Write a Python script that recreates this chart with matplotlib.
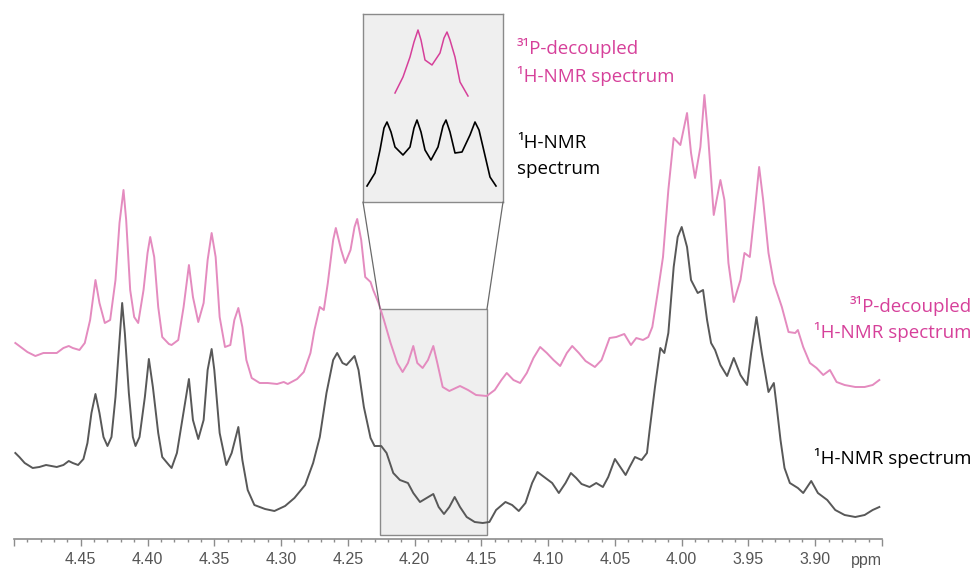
import matplotlib.pyplot as plt
from matplotlib.patches import Rectangle, ConnectionPatch
from matplotlib.ticker import MultipleLocator

# chemical shift (ppm) and intensity (arbitrary units)
# 1H-NMR spectrum
h_ppm = [4.499, 4.496, 4.492, 4.486, 4.481, 4.476, 4.472, 4.468, 4.463, 4.459,
         4.456, 4.452, 4.448, 4.445, 4.442, 4.439, 4.436, 4.433, 4.430, 4.427,
         4.424, 4.421, 4.419, 4.417, 4.414, 4.411, 4.409, 4.406, 4.402, 4.399,
         4.396, 4.392, 4.389, 4.384, 4.382, 4.378, 4.374, 4.369, 4.366, 4.362,
         4.358, 4.355, 4.352, 4.350, 4.346, 4.341, 4.337, 4.332, 4.329, 4.325,
         4.320, 4.312, 4.305, 4.297, 4.290, 4.282, 4.276, 4.271, 4.266, 4.261,
         4.258, 4.254, 4.251, 4.245, 4.242, 4.238, 4.233, 4.230, 4.225, 4.221,
         4.216, 4.211, 4.205, 4.201, 4.196, 4.191, 4.186, 4.182, 4.178, 4.174,
         4.170, 4.166, 4.161, 4.155, 4.149, 4.144, 4.139, 4.132, 4.127, 4.122,
         4.117, 4.112, 4.108, 4.102, 4.097, 4.092, 4.087, 4.083, 4.079, 4.075,
         4.069, 4.064, 4.059, 4.055, 4.050, 4.046, 4.042, 4.039, 4.035, 4.030,
         4.026, 4.024, 4.020, 4.016, 4.013, 4.010, 4.006, 4.003, 4.000, 3.996,
         3.993, 3.988, 3.984, 3.981, 3.978, 3.975, 3.971, 3.966, 3.961, 3.956,
         3.951, 3.948, 3.944, 3.940, 3.935, 3.931, 3.929, 3.926, 3.923, 3.919,
         3.913, 3.909, 3.903, 3.898, 3.891, 3.885, 3.878, 3.870, 3.863, 3.857,
         3.852]
h_int = [86, 82, 76, 71, 72, 74, 73, 72, 74, 78,
         76, 74, 80, 96, 126, 145, 126, 102, 93, 102,
         142, 199, 236, 206, 146, 102, 93, 102, 142, 180,
         152, 106, 82, 74, 71, 86, 119, 160, 119, 100,
         119, 169, 190, 169, 106, 74, 86, 112, 79, 49,
         34, 30, 28, 33, 41, 54, 76, 102, 146, 179,
         186, 176, 174, 183, 169, 132, 101, 93, 93, 86,
         66, 59, 56, 46, 37, 41, 45, 32, 25, 32,
         42, 32, 22, 17, 16, 17, 29, 37, 34, 28,
         36, 56, 67, 61, 56, 46, 56, 66, 61, 55,
         52, 56, 52, 62, 80, 72, 64, 72, 82, 79,
         86, 109, 152, 191, 186, 206, 272, 302, 312, 292,
         259, 246, 249, 219, 196, 189, 174, 163, 181, 164,
         154, 186, 222, 186, 147, 156, 134, 99, 71, 56,
         51, 46, 58, 46, 39, 29, 24, 22, 24, 29,
         32]

# 31P-decoupled 1H-NMR spectrum
p_ppm = [4.499, 4.496, 4.490, 4.484, 4.478, 4.473, 4.468, 4.463, 4.459, 4.456,
         4.451, 4.447, 4.443, 4.439, 4.436, 4.432, 4.428, 4.424, 4.421, 4.418,
         4.416, 4.413, 4.410, 4.407, 4.403, 4.400, 4.398, 4.395, 4.392, 4.389,
         4.384, 4.382, 4.377, 4.373, 4.369, 4.366, 4.362, 4.358, 4.355, 4.352,
         4.349, 4.346, 4.342, 4.338, 4.335, 4.332, 4.329, 4.326, 4.322, 4.316,
         4.310, 4.303, 4.298, 4.295, 4.288, 4.283, 4.278, 4.275, 4.271, 4.268,
         4.265, 4.261, 4.259, 4.255, 4.252, 4.248, 4.245, 4.243, 4.240, 4.237,
         4.233, 4.231, 4.227, 4.223, 4.218, 4.213, 4.209, 4.205, 4.201, 4.198,
         4.194, 4.190, 4.186, 4.183, 4.179, 4.174, 4.166, 4.160, 4.154, 4.146,
         4.140, 4.135, 4.131, 4.126, 4.121, 4.116, 4.111, 4.106, 4.101, 4.096,
         4.091, 4.086, 4.082, 4.077, 4.072, 4.065, 4.060, 4.054, 4.049, 4.043,
         4.038, 4.034, 4.029, 4.025, 4.022, 4.018, 4.014, 4.010, 4.006, 4.001,
         3.996, 3.993, 3.990, 3.986, 3.983, 3.980, 3.976, 3.971, 3.968, 3.965,
         3.961, 3.956, 3.953, 3.949, 3.945, 3.942, 3.939, 3.935, 3.931, 3.925,
         3.920, 3.915, 3.913, 3.909, 3.904, 3.899, 3.894, 3.889, 3.884, 3.878,
         3.870, 3.863, 3.857, 3.852]
p_int = [196, 193, 187, 183, 186, 186, 186, 191, 193, 191,
         189, 196, 219, 259, 236, 216, 219, 259, 316, 349,
         319, 249, 222, 216, 249, 286, 302, 282, 232, 202,
         195, 194, 199, 232, 274, 242, 217, 236, 279, 306,
         282, 222, 192, 194, 219, 231, 212, 179, 161, 156,
         156, 155, 157, 155, 160, 167, 186, 209, 232, 229,
         256, 299, 311, 289, 276, 289, 312, 320, 299, 262,
         257, 249, 236, 219, 196, 176, 167, 176, 193, 176,
         171, 179, 193, 176, 152, 148, 153, 149, 144, 143,
         149, 159, 166, 159, 156, 166, 181, 192, 186, 179,
         173, 186, 193, 186, 178, 172, 179, 201, 202, 205,
         194, 201, 199, 202, 212, 246, 282, 349, 401, 394,
         426, 386, 361, 392, 444, 399, 324, 359, 339, 276,
         237, 259, 286, 282, 332, 372, 339, 286, 256, 232,
         207, 206, 209, 192, 176, 171, 164, 169, 157, 154,
         152, 152, 154, 159]

# schematic close-up of the 4.22-4.15 ppm multiplet (inset units)
inset_p_x = [32, 40, 47, 51, 55, 58, 62, 69, 77, 81, 84, 87, 92, 97, 105]
inset_p_y = [109, 125, 145, 160, 172, 162, 142, 137, 149, 164, 170, 162, 145, 120, 106]
inset_h_x = [4, 12, 17, 21, 24, 28, 32, 40, 47, 51, 54, 58, 62, 68, 75, 80, 83, 87,
             92, 99, 107, 112, 116, 120, 127, 133]
inset_h_y = [16, 29, 52, 74, 80, 70, 55, 47, 55, 74, 82, 70, 52, 42, 55, 76, 82, 70,
             49, 50, 67, 80, 72, 55, 25, 16]

tick_vals = [4.50, 4.45, 4.40, 4.35, 4.30, 4.25, 4.20, 4.15, 4.10, 4.05, 4.00, 3.95, 3.90, 3.85]
tick_text = ['', '4.45', '4.40', '4.35', '4.30', '4.25', '4.20', '4.15', '4.10', '4.05',
             '4.00', '3.95', '3.90', '']

zoom_lo, zoom_hi = 4.2259, 4.1458

pink_line = '#e48bbf'
pink_text = '#d6409a'
dark_line = '#585858'
txt_font = ['Open Sans', 'DejaVu Sans']

W, H = 975, 569
fig = plt.figure(figsize=(W / 100, H / 100), dpi=100)
ax = fig.add_axes([14 / W, 30 / H, 868 / W, 539 / H])
ax.set_xlim(4.50, 3.85)
ax.set_ylim(0, 539)

ax.add_patch(Rectangle((zoom_lo, 4), zoom_hi - zoom_lo, 226, facecolor='#efefef',
                       edgecolor='#8a8a8a', lw=1.0, zorder=1))
ax.plot(p_ppm, p_int, color=pink_line, lw=1.4, zorder=3, solid_joinstyle='round')
ax.plot(h_ppm, h_int, color=dark_line, lw=1.4, zorder=3, solid_joinstyle='round')

for s in ['top', 'left', 'right']:
    ax.spines[s].set_visible(False)
ax.spines['bottom'].set_color('#8c8c8c')
ax.spines['bottom'].set_linewidth(1.2)
ax.set_yticks([])
ax.set_xticks(tick_vals)
ax.set_xticklabels(tick_text, fontfamily='Liberation Sans', fontsize=11.5, color='#555555')
ax.xaxis.set_minor_locator(MultipleLocator(0.01))
ax.tick_params(axis='x', which='major', direction='out', length=5, width=1,
               color='#8c8c8c', pad=4)
ax.tick_params(axis='x', which='minor', direction='out', length=2.5, width=1,
               color='#8c8c8c')
ax.text(3.85, -22, 'ppm', ha='right', va='center', fontfamily='Liberation Sans',
        fontsize=11.5, color='#555555', clip_on=False)
ax.patch.set_alpha(0)

# inset box
ins = fig.add_axes([363 / W, (H - 202) / H, 140 / W, 188 / H])
ins.set_xlim(0, 140)
ins.set_ylim(0, 188)
ins.set_facecolor('#efefef')
for s in ins.spines.values():
    s.set_color('#8a8a8a')
    s.set_linewidth(1.0)
ins.set_xticks([])
ins.set_yticks([])
ins.plot(inset_p_x, inset_p_y, color=pink_text, lw=1.1)
ins.plot(inset_h_x, inset_h_y, color='black', lw=1.2)

for corner_ax, corner_data in [((0, 0), (zoom_lo, 230)), ((1, 0), (zoom_hi, 230))]:
    con = ConnectionPatch(xyA=corner_ax, coordsA=ins.transAxes, xyB=corner_data,
                          coordsB=ax.transData, color='#6a6a6a', lw=0.9)
    fig.add_artist(con)

# labels
def px_text(x, y, s, color, ha='left'):
    fig.text(x / W, 1 - y / H, s, ha=ha, va='center', color=color,
             family=txt_font, fontsize=13.5)

px_text(517, 48, '³¹P-decoupled', pink_text)
px_text(517, 76, '¹H-NMR spectrum', pink_text)
px_text(517, 143, '¹H-NMR', 'black')
px_text(517, 169, 'spectrum', 'black')
px_text(972, 306, '³¹P-decoupled', pink_text, ha='right')
px_text(972, 332, '¹H-NMR spectrum', pink_text, ha='right')
px_text(972, 458, '¹H-NMR spectrum', 'black', ha='right')

fig.savefig('out.png', dpi=100)
